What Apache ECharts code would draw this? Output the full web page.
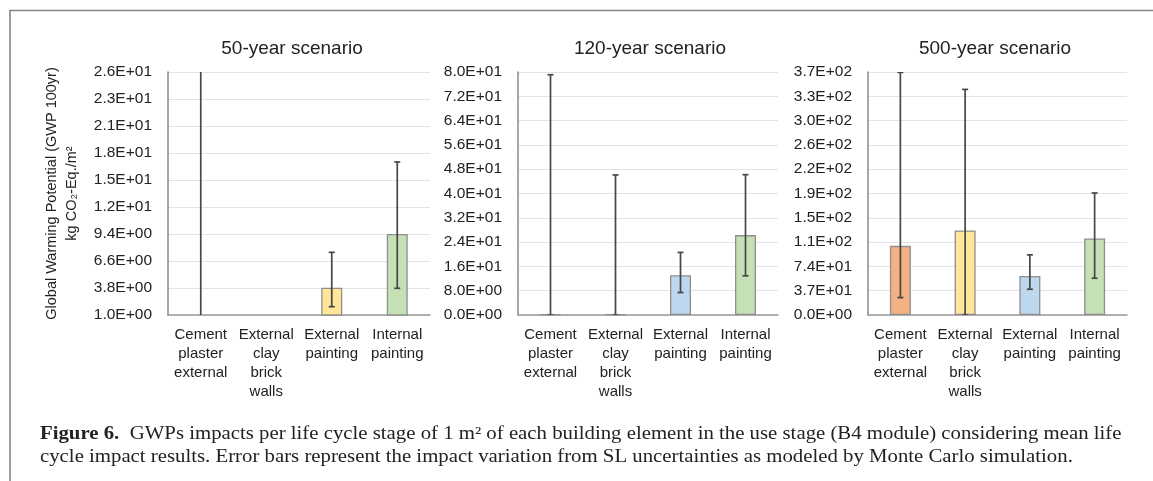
<!DOCTYPE html>
<html>
<head>
<meta charset="utf-8">
<script src="https://cdn.jsdelivr.net/npm/echarts@6/dist/echarts.min.js"></script>
<style>
  html, body { margin: 0; padding: 0; background: #fff; }
  #chart { width: 1153px; height: 481px; }
</style>
</head>
<body>
<div id="chart"></div>
<script>
// Building elements (x-axis categories)
const categories = [
  'Cement\nplaster\nexternal',
  'External\nclay\nbrick\nwalls',
  'External\npainting',
  'Internal\npainting'
];

// Scenario titles
const scenarioTitles = ['50-year scenario', '120-year scenario', '500-year scenario'];

// Mean GWP per building element (kg CO2-Eq./m2)
const mean50 = [0.5, 0.4, 3.83, 9.4];
const mean120 = [0.2, 0.2, 13.1, 26.3];
const mean500 = [105.3, 128.8, 59.5, 116.6];

// Error bar ranges [low, high] from SL uncertainty (Monte Carlo)
const err50 = [[0.2, 26.4], [0.2, 0.6], [1.86, 7.5], [3.77, 16.87]];
const err120 = [[0, 79.1], [0, 46.1], [7.4, 20.6], [12.9, 46.2]];
const err500 = [[26.5, 369.4], [0, 343.5], [39.2, 91.6], [56, 185.8]];

// Value axis ranges: [min, max, interval]
const axis50 = [1, 26.2, 2.8];
const axis120 = [0, 80, 8];
const axis500 = [0, 370, 37];

// Bar fill colours per panel
const colors50 = ['#F4B183', '#FFE699', '#FFE699', '#C5E0B4'];
const colors120 = ['#F4B183', '#FFE699', '#BDD7EE', '#C5E0B4'];
const colors500 = ['#F4B183', '#FFE699', '#BDD7EE', '#C5E0B4'];

const FONT = 'Liberation Sans, Arial, sans-serif';
const SERIF = 'Liberation Serif, Times New Roman, serif';

// Scientific label format, e.g. 2.6E+01
function sci(v) {
  if (Math.abs(v) < 1e-9) return '0.0E+00';
  let exp = Math.floor(Math.log10(Math.abs(v)));
  let mant = v / Math.pow(10, exp);
  let m = mant.toFixed(1);
  if (parseFloat(m) >= 10) { exp += 1; m = (v / Math.pow(10, exp)).toFixed(1); }
  const sign = exp < 0 ? '-' : '+';
  const e = String(Math.abs(exp)).padStart(2, '0');
  return m + 'E' + sign + e;
}

const panels = [
  { left: 168, width: 262, titleX: 292, mean: mean50, err: err50, axis: axis50, colors: colors50 },
  { left: 518, width: 260, titleX: 650, mean: mean120, err: err120, axis: axis120, colors: colors120 },
  { left: 868, width: 259, titleX: 995, mean: mean500, err: err500, axis: axis500, colors: colors500 }
];

const grids = [], xAxes = [], yAxes = [], series = [], titles = [];

panels.forEach((p, i) => {
  grids.push({ left: p.left, width: p.width, top: 72, height: 243, containLabel: false });
  titles.push({
    text: scenarioTitles[i],
    left: p.titleX,
    top: 39,
    padding: 0,
    textAlign: 'center',
    textStyle: { fontFamily: FONT, fontSize: 19, fontWeight: 'normal', color: '#222' }
  });
  xAxes.push({
    type: 'category',
    gridIndex: i,
    data: categories,
    axisLine: { show: true, lineStyle: { color: '#9a9a9a', width: 1.5 } },
    axisTick: { show: false },
    axisLabel: {
      interval: 0,
      margin: 11,
      fontFamily: FONT,
      fontSize: 15,
      color: '#222',
      lineHeight: 18.7,
      align: 'center'
    }
  });
  const y = {
    type: 'value',
    gridIndex: i,
    min: p.axis[0],
    max: p.axis[1],
    interval: p.axis[2],
    axisLine: { show: true, lineStyle: { color: '#8a8a8a', width: 1.5 } },
    axisTick: { show: false },
    splitLine: { show: true, lineStyle: { color: '#e3e3e3', width: 1 } },
    axisLabel: {
      formatter: sci,
      margin: 16,
      fontFamily: FONT,
      fontSize: 15.5,
      color: '#222'
    }
  };
  if (i === 0) {
    y.name = 'Global Warming Potential (GWP 100yr)\nkg CO\u2082-Eq./m\u00B2';
    y.nameLocation = 'middle';
    y.nameRotate = 90;
    y.nameGap = 86;
    y.nameTextStyle = { fontFamily: FONT, fontSize: 14.5, color: '#222', lineHeight: 20, align: 'center' };
  }
  yAxes.push(y);

  series.push({
    type: 'bar',
    xAxisIndex: i,
    yAxisIndex: i,
    barWidth: 21,
    clip: true,
    data: p.mean.map((v, k) => ({
      value: v,
      itemStyle: { color: p.colors[k], borderColor: '#8f8f8f', borderWidth: 1.3 }
    }))
  });

  series.push({
    type: 'custom',
    xAxisIndex: i,
    yAxisIndex: i,
    clip: true,
    z: 5,
    data: p.err.map((e, k) => [k, e[0], e[1]]),
    renderItem: function (params, api) {
      const x = api.value(0);
      const lo = api.coord([x, api.value(1)]);
      const hi = api.coord([x, api.value(2)]);
      const cap = 3;
      const style = { stroke: '#474747', lineWidth: 1.7, fill: null };
      return {
        type: 'group',
        children: [
          { type: 'line', shape: { x1: hi[0], y1: hi[1], x2: lo[0], y2: lo[1] }, style: style },
          { type: 'line', shape: { x1: hi[0] - cap, y1: hi[1], x2: hi[0] + cap, y2: hi[1] }, style: style },
          { type: 'line', shape: { x1: lo[0] - cap, y1: lo[1], x2: lo[0] + cap, y2: lo[1] }, style: style }
        ]
      };
    }
  });
});

const chart = echarts.init(document.getElementById('chart'), null, { renderer: 'canvas' });
chart.setOption({
  animation: false,
  backgroundColor: '#ffffff',
  title: titles,
  grid: grids,
  xAxis: xAxes,
  yAxis: yAxes,
  series: series,
  graphic: [
    {
      type: 'polyline',
      shape: { points: [[10, 481], [10, 10.5], [1153, 10.5]] },
      style: { stroke: '#858585', lineWidth: 1.6, fill: null },
      silent: true
    },
    {
      // figure caption, widened horizontally to the figure's text block
      type: 'text',
      x: 40,
      y: 423,
      scaleX: 1.155,
      style: {
        text: '{b|Figure 6.}  GWPs impacts per life cycle stage of 1 m\u00B2 of each building element in the use stage (B4 module) considering mean life\ncycle impact results. Error bars represent the impact variation from SL uncertainties as modeled by Monte Carlo simulation.',
        fontFamily: SERIF,
        fontSize: 18,
        lineHeight: 23,
        fill: '#222',
        rich: {
          b: { fontFamily: SERIF, fontSize: 18, fontWeight: 'bold', fill: '#222', lineHeight: 23 }
        }
      },
      silent: true
    }
  ]
});
</script>
</body>
</html>
